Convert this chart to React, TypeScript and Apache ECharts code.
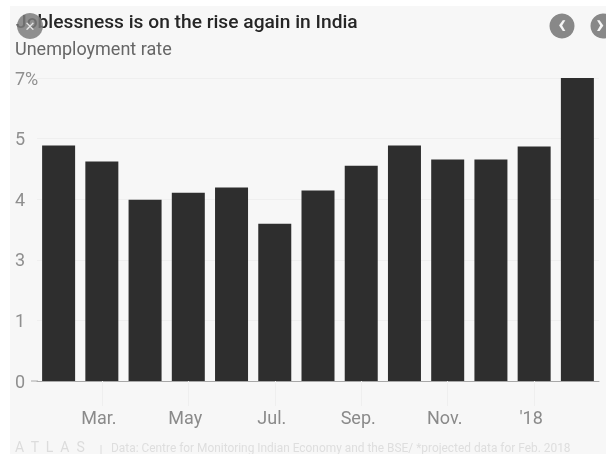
import React, { useEffect, useRef } from "react";
import * as echarts from "echarts";

const categories = ["Feb.", "Mar.", "Apr.", "May", "Jun.", "Jul.", "Aug.", "Sep.", "Oct.", "Nov.", "Dec.", "'18", "Feb.*"];
const rates = [5.44, 5.07, 4.19, 4.35, 4.47, 3.63, 4.4, 4.97, 5.44, 5.12, 5.12, 5.42, 7.0];
const yTickLabels = ["0", "1", "3", "4", "5", "7%"];
const titleText = "Joblessness is on the rise again in India";
const subtitleText = "Unemployment rate";
const footerBrand = "A  T  L  A  S";
const footerText = "Data: Centre for Monitoring Indian Economy and the BSE/ *projected data for Feb. 2018";

const FONT = "Roboto, 'Noto Sans', sans-serif";
const everyOther = (i: number) => i % 2 === 1;

export default function App() {
  const ref = useRef<HTMLDivElement>(null);
  useEffect(() => {
    document.body.style.margin = "0";
    const chart = echarts.init(ref.current!, undefined, { renderer: "svg" });
    chart.setOption({
      animation: false,
      backgroundColor: "#ffffff",
      grid: { left: 37, right: 7, top: 78, bottom: 73, containLabel: false },
      xAxis: {
        type: "category",
        data: categories,
        axisLine: { show: true, lineStyle: { color: "#a8a8a8", width: 1 } },
        axisTick: { show: true, alignWithLabel: true, interval: everyOther, length: 25, lineStyle: { color: "#efefef" } },
        axisLabel: { interval: everyOther, color: "#8a8a8a", fontSize: 18, fontFamily: FONT, margin: 27, padding: [0, 6, 0, 0] },
      },
      yAxis: {
        type: "value",
        min: 0,
        max: 7,
        interval: 1.4,
        axisLine: { show: false },
        axisTick: { show: false },
        splitLine: { show: true, lineStyle: { color: "#efefef", width: 1 } },
        axisLabel: {
          color: "#8f8f8f",
          fontSize: 18,
          fontFamily: FONT,
          align: "left",
          margin: 22,
          formatter: (v: number) => yTickLabels[Math.round(v / 1.4)],
        },
      },
      series: [
        {
          type: "bar",
          data: rates,
          barWidth: 33,
          itemStyle: { color: "#2e2e2e" },
          z: 3,
        },
      ],
      graphic: [
        { type: "rect", z: -10, silent: true, shape: { x: 10, y: 6, width: 596, height: 448 }, style: { fill: "#f7f7f7" } },
        { type: "line", silent: true, shape: { x1: 31, y1: 381, x2: 38, y2: 381 }, style: { stroke: "#a8a8a8", lineWidth: 1 } },
        { type: "text", x: 16, y: 12, style: { text: titleText, fill: "#262626", font: `500 19.2px ${FONT}` } },
        { type: "text", x: 15, y: 39, style: { text: subtitleText, fill: "#666666", font: `400 18px ${FONT}` } },
        { type: "circle", z: 10, shape: { cx: 30, cy: 26, r: 13 }, style: { fill: "#7d7d7d", opacity: 0.85 } },
        { type: "text", z: 11, x: 30, y: 26, style: { text: "✕", fill: "#e6e6e6", font: `700 13px 'DejaVu Sans'`, align: "center", verticalAlign: "middle" } },
        { type: "circle", z: 10, shape: { cx: 562, cy: 26, r: 12.5 }, style: { fill: "#888888" } },
        { type: "text", z: 11, x: 562, y: 24, style: { text: "‹", fill: "#f5f5f5", font: `700 27px ${FONT}`, align: "center", verticalAlign: "middle" } },
        { type: "circle", z: 10, shape: { cx: 603, cy: 26, r: 12.5 }, style: { fill: "#888888" } },
        { type: "text", z: 11, x: 600, y: 24, style: { text: "›", fill: "#f5f5f5", font: `700 27px ${FONT}`, align: "center", verticalAlign: "middle" } },
        { type: "text", x: 15, y: 440, style: { text: footerBrand, fill: "#dcdcdc", font: `400 14px ${FONT}` } },
        { type: "line", silent: true, shape: { x1: 101, y1: 445, x2: 101, y2: 454 }, style: { stroke: "#dcdcdc", lineWidth: 1 } },
        { type: "text", x: 111, y: 442, style: { text: footerText, fill: "#dedede", font: `400 11.9px ${FONT}` } },
      ],
    });
    return () => chart.dispose();
  }, []);
  return <div ref={ref} style={{ width: 606, height: 454, filter: "blur(0.5px)" }} />;
}
